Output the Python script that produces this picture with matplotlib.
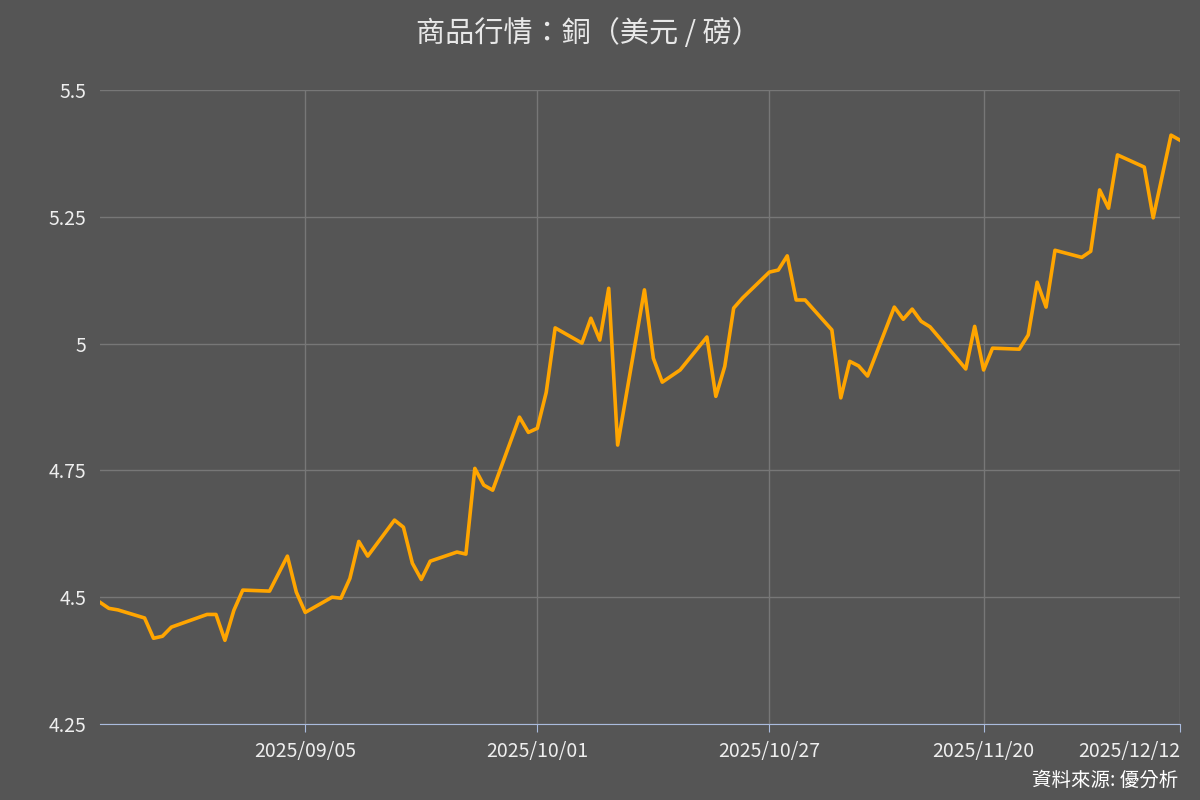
import matplotlib
matplotlib.use("Agg")
import matplotlib.pyplot as plt
import matplotlib.dates as mdates
import pandas as pd

plt.rcParams['font.family'] = ['Noto Sans CJK TC', 'DejaVu Sans']

dates = ["2025-08-13","2025-08-14","2025-08-15","2025-08-18","2025-08-19","2025-08-20","2025-08-21",
 "2025-08-25","2025-08-26","2025-08-27","2025-08-28","2025-08-29","2025-09-01","2025-09-03","2025-09-04",
 "2025-09-05","2025-09-08","2025-09-09","2025-09-10","2025-09-11","2025-09-12","2025-09-15","2025-09-16",
 "2025-09-17","2025-09-18","2025-09-19","2025-09-22","2025-09-23","2025-09-24","2025-09-25","2025-09-26",
 "2025-09-29","2025-09-30","2025-10-01","2025-10-02","2025-10-03","2025-10-06","2025-10-07","2025-10-08",
 "2025-10-09","2025-10-10","2025-10-13","2025-10-14","2025-10-15","2025-10-17","2025-10-20","2025-10-21",
 "2025-10-22","2025-10-23","2025-10-24","2025-10-27","2025-10-28","2025-10-29","2025-10-30","2025-10-31",
 "2025-11-03","2025-11-04","2025-11-05","2025-11-06","2025-11-07","2025-11-10","2025-11-11","2025-11-12",
 "2025-11-13","2025-11-14","2025-11-17","2025-11-18","2025-11-19","2025-11-20","2025-11-21","2025-11-24",
 "2025-11-25","2025-11-26","2025-11-27","2025-11-28","2025-12-01","2025-12-02","2025-12-03","2025-12-04",
 "2025-12-05","2025-12-08","2025-12-09","2025-12-11","2025-12-12"]
prices = [4.490,4.478,4.475,4.459,4.419,4.423,4.441,
 4.466,4.466,4.415,4.474,4.514,4.512,4.581,4.510,
 4.470,4.500,4.498,4.537,4.610,4.581,4.652,4.638,
 4.567,4.535,4.571,4.589,4.585,4.754,4.721,4.711,
 4.855,4.825,4.833,4.904,5.031,5.001,5.050,5.007,
 5.109,4.800,5.106,4.971,4.924,4.948,5.013,4.896,
 4.955,5.070,5.090,5.141,5.145,5.173,5.086,5.086,
 5.027,4.893,4.965,4.956,4.936,5.072,5.048,5.068,
 5.044,5.033,4.971,4.950,5.034,4.948,4.991,4.989,
 5.017,5.121,5.072,5.184,5.170,5.182,5.303,5.267,
 5.372,5.348,5.248,5.411,5.401]
xticks = ["2025-09-05","2025-10-01","2025-10-27","2025-11-20","2025-12-12"]
yticks = [4.25, 4.5, 4.75, 5.0, 5.25, 5.5]
ylabels = ["4.25", "4.5", "4.75", "5", "5.25", "5.5"]

x = pd.to_datetime(dates)
bg = "#555555"
fig = plt.figure(figsize=(12, 8), dpi=100, facecolor=bg)
ax = fig.add_axes([0.0833, 0.095, 0.9, 0.7925], facecolor=bg)
ax.plot(x, prices, color="#FFA500", lw=2.6, zorder=3)
ax.set_xlim(x[0], x[-1])
ax.set_ylim(4.25, 5.5)
ax.set_xticks(pd.to_datetime(xticks))
ax.xaxis.set_major_formatter(mdates.DateFormatter("%Y/%m/%d"))
ax.set_yticks(yticks)
ax.set_yticklabels(ylabels)
ax.grid(True, color="#777777", lw=1)
ax.set_axisbelow(True)
for s in ["top", "right", "left"]:
    ax.spines[s].set_visible(False)
ax.spines["bottom"].set_color("#aabbdd")
ax.tick_params(axis="both", colors="#eeeeee", labelsize=14, length=0, pad=10)
ax.tick_params(axis="x", length=6, color="#aabbdd", pad=6)
ax.get_xticklabels()[-1].set_ha("right")
fig.text(0.49, 0.958, "商品行情：銅（美元 / 磅）", ha="center", va="center", fontsize=21, color="#e8e8e8")
fig.text(0.982, 0.012, "資料來源: 優分析", ha="right", va="bottom", fontsize=14, color="#ffffff")
fig.savefig("out.png", dpi=100, facecolor=bg)
